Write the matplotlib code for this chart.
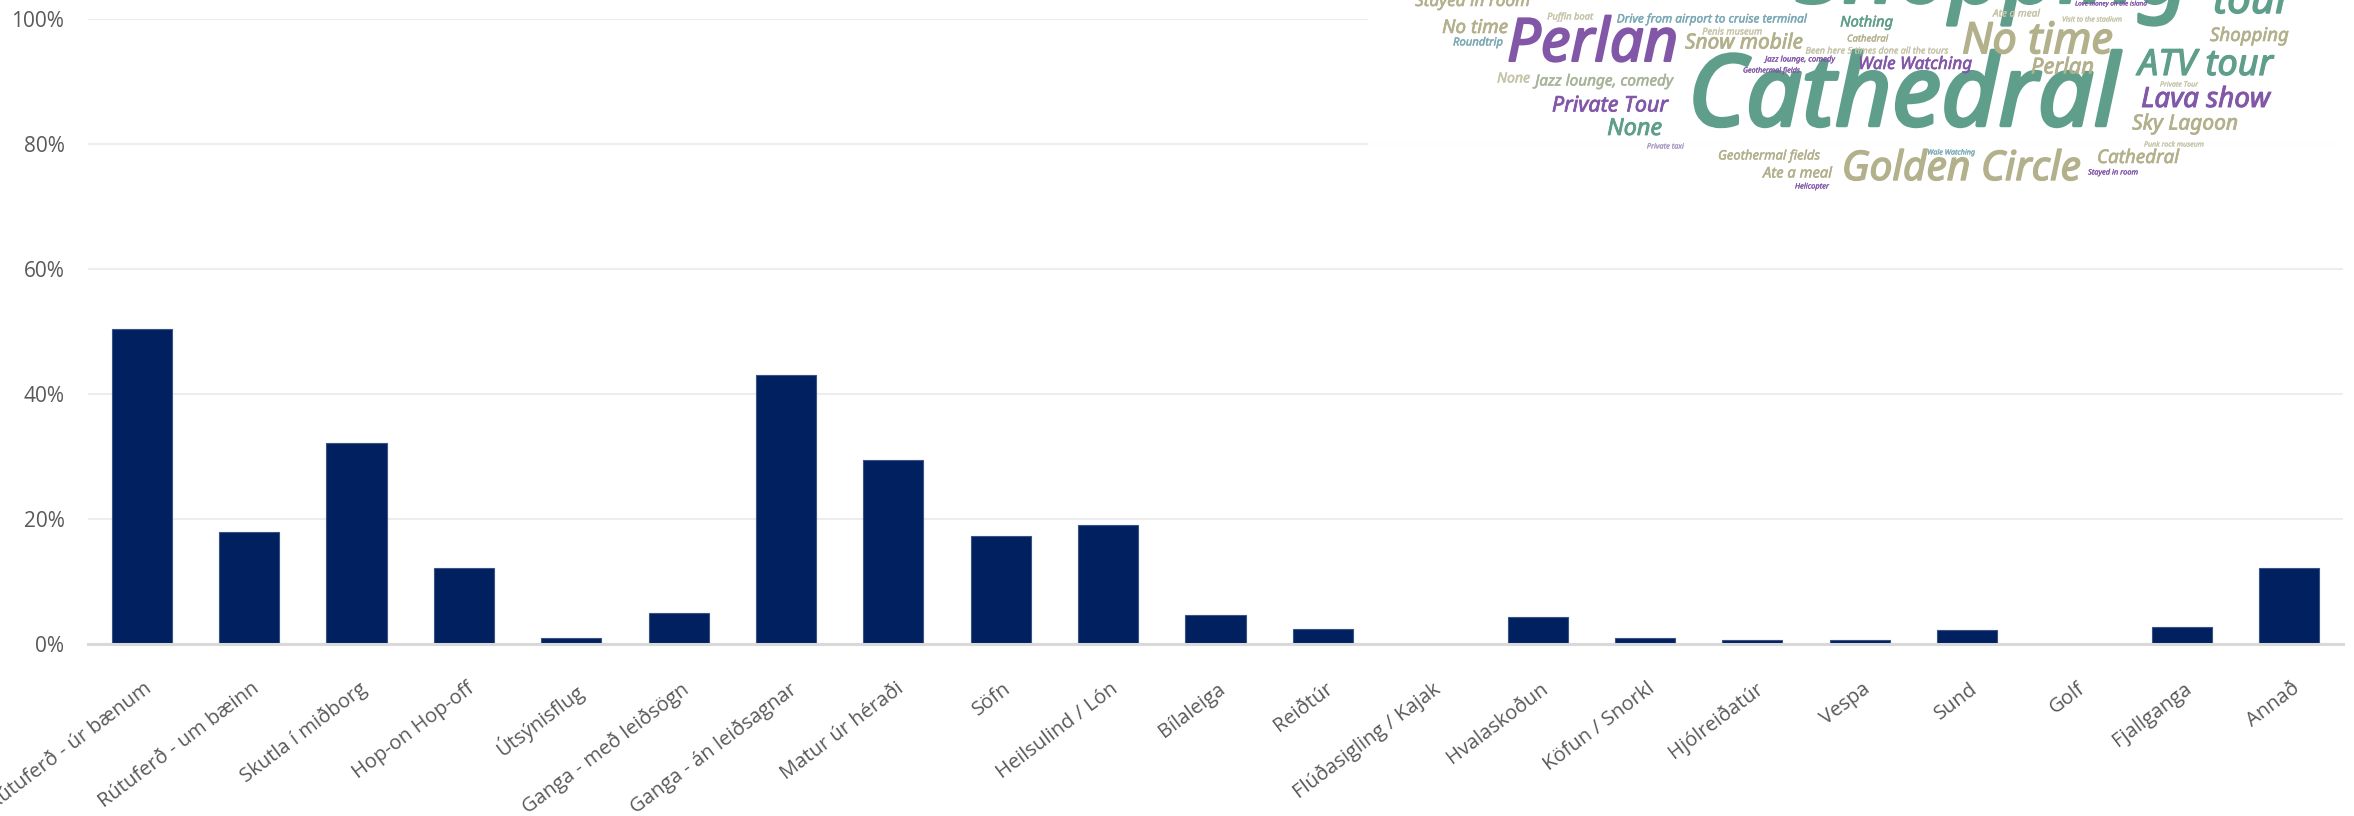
import numpy as np
import matplotlib
matplotlib.use("Agg")
import matplotlib.pyplot as plt
import matplotlib.transforms as mtransforms
import matplotlib.patheffects as pe
from matplotlib.ticker import PercentFormatter

# gögn lesin af myndinni
flokkar = ["Rútuferð - úr bænum", "Rútuferð - um bæinn", "Skutla í miðborg",
           "Hop-on Hop-off", "Útsýnisflug", "Ganga - með leiðsögn",
           "Ganga - án leiðsagnar", "Matur úr héraði", "Söfn", "Heilsulind / Lón",
           "Bílaleiga", "Reiðtúr", "Flúðasigling / Kajak", "Hvalaskoðun",
           "Köfun / Snorkl", "Hjólreiðatúr", "Vespa", "Sund", "Golf",
           "Fjallganga", "Annað"]
hlutfall = np.array([50.4, 18.0, 32.2, 12.2, 1.0, 5.0, 43.0, 29.5, 17.3, 19.0,
                     4.6, 2.4, 0.0, 4.3, 1.0, 0.7, 0.7, 2.2, 0.0, 2.7, 12.2]) / 100

# orðaský: orð, vinstri x, hægri x, miðja y (px), litur
TEAL, OLIVE, PURPLE, BLUE, PALE = "#5e9e8b", "#b3b08c", "#8257a8", "#7aa9b5", "#c6c4a8"
ord_sky = [
    ("Shopping", 1795, 2191, -22, TEAL),
    ("Cathedral", 1688, 2119, 100, TEAL),
    ("Perlan", 1507, 1678, 45, PURPLE),
    ("No time", 1962, 2113, 42, OLIVE),
    ("Golden Circle", 1842, 2081, 170, OLIVE),
    ("tour", 2213, 2292, 2, TEAL),
    ("ATV tour", 2138, 2273, 66, TEAL),
    ("Lava show", 2141, 2270, 100, PURPLE),
    ("Sky Lagoon", 2132, 2238, 124, OLIVE),
    ("Shopping", 2210, 2289, 36, OLIVE),
    ("Perlan", 2031, 2094, 68, OLIVE),
    ("Cathedral", 2097, 2179, 158, OLIVE),
    ("Stayed in room", 1415, 1530, 2, OLIVE),
    ("No time", 1442, 1508, 28, OLIVE),
    ("Roundtrip", 1453, 1503, 43, BLUE),
    ("None", 1497, 1530, 79, PALE),
    ("Jazz lounge, comedy", 1535, 1673, 82, "#a8b49a"),
    ("Private Tour", 1552, 1668, 106, PURPLE),
    ("None", 1607, 1662, 129, TEAL),
    ("Private taxi", 1647, 1684, 147, "#a99bc4"),
    ("Puffin boat", 1547, 1593, 17, PALE),
    ("Drive from airport to cruise terminal", 1617, 1807, 19, BLUE),
    ("Nothing", 1840, 1893, 23, TEAL),
    ("Penis museum", 1702, 1762, 32, PALE),
    ("Snow mobile", 1685, 1803, 43, OLIVE),
    ("Cathedral", 1847, 1888, 39, OLIVE),
    ("Been here 5 times done all the tours", 1806, 1949, 51, PALE),
    ("Jazz lounge, comedy", 1765, 1835, 60, PURPLE),
    ("Geothermal fields", 1743, 1800, 71, PURPLE),
    ("Wale Watching", 1858, 1972, 65, PURPLE),
    ("Ate a meal", 1993, 2040, 14, PALE),
    ("Love money on the island", 2075, 2147, 4, PURPLE),
    ("Visit to the stadium", 2062, 2122, 20, PALE),
    ("Private Tour", 2160, 2198, 85, PALE),
    ("Punk rock museum", 2144, 2204, 145, PALE),
    ("Wale Watching", 1927, 1975, 153, BLUE),
    ("Geothermal fields", 1718, 1820, 156, OLIVE),
    ("Stayed in room", 2088, 2138, 173, PURPLE),
    ("Ate a meal", 1763, 1832, 174, OLIVE),
    ("Helicopter", 1795, 1829, 187, PURPLE),
]

W, H = 2354, 816
fig = plt.figure(figsize=(W / 100, H / 100), dpi=100)
ax = fig.add_axes([88 / W, (H - 644) / H, (2343 - 88) / W, (644 - 19) / H])

x = np.arange(len(flokkar))
ax.bar(x, hlutfall, width=0.56, color="#002060", edgecolor="#3b5285", linewidth=0.8, zorder=3)

ax.set_xlim(-0.5, len(flokkar) - 0.5)
ax.set_ylim(0, 1)
ax.set_yticks(np.arange(0, 1.01, 0.2))
ax.yaxis.set_major_formatter(PercentFormatter(1.0, decimals=0))
ax.grid(axis="y", color="#ededed", linewidth=1.5, zorder=0)
ax.set_axisbelow(True)
for s in ["top", "right", "left"]:
    ax.spines[s].set_visible(False)
ax.spines["bottom"].set_color("#d9d9d9")
ax.spines["bottom"].set_linewidth(2.2)
ax.spines["bottom"].set_zorder(4)

ax.tick_params(axis="y", length=0, pad=17, labelsize=15, labelcolor="#595959")
ax.tick_params(axis="x", length=0, pad=25, labelsize=14.5, labelcolor="#595959")
ax.set_xticks(x)
ax.set_xticklabels(flokkar, rotation=37, ha="right", va="top", rotation_mode="anchor",
                   family=["Open Sans", "DejaVu Sans"])
for lab in ax.get_yticklabels():
    lab.set_family(["Open Sans", "DejaVu Sans"])
skekk = mtransforms.ScaledTranslation(2 / 100, 0, fig.dpi_scale_trans)
for lab in ax.get_xticklabels():
    lab.set_transform(lab.get_transform() + skekk)

# orðaský ofan á
x0, y1 = 1368, 200
ax2 = fig.add_axes([x0 / W, (H - y1) / H, (W - x0) / W, y1 / H])
ax2.set_xlim(x0, W)
ax2.set_ylim(y1, 0)
ax2.axis("off")
ax2.add_patch(plt.Rectangle((x0, 0), W - x0, y1, color="white", alpha=0.95, zorder=0))

fig.canvas.draw()
renderer = fig.canvas.get_renderer()
for ord_, xa, xb, yc, lit in ord_sky:
    t = ax2.text((xa + xb) / 2, yc, ord_, ha="center", va="center", color=lit,
                 fontsize=20, style="italic", fontstretch="condensed",
                 family=["Noto Sans Condensed", "Noto Sans", "DejaVu Sans"], zorder=2)
    b = t.get_window_extent(renderer)
    fs = 20 * (xb - xa) / b.width
    t.set_fontsize(fs)
    t.set_path_effects([pe.withStroke(linewidth=fs * 0.035, foreground=lit)])

fig.savefig("out.png", dpi=100)
